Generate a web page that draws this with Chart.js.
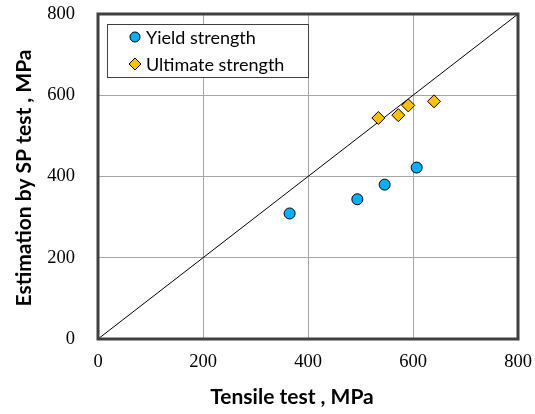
<!DOCTYPE html>
<html><head><meta charset="utf-8">
<script src="https://cdn.jsdelivr.net/npm/chart.js@4.4.1/dist/chart.umd.min.js"></script>
<style>html,body{margin:0;padding:0;background:#fff}#wrap{width:535px;height:414px}</style>
</head><body><div id="wrap"><canvas id="c" width="535" height="414"></canvas></div>
<script>
// ---- data ----
const yieldX = [365, 494, 546, 607];
const yieldY = [309, 344, 380, 422];
const ultX = [534, 572, 591, 640];
const ultY = [544, 551, 575, 585];
const refX = [0, 800];
const refY = [0, 800];
const tickValues = [0, 200, 400, 600, 800];
const seriesNames = ['Yield strength', 'Ultimate strength'];
const xTitle = 'Tensile test , MPa';
const yTitle = 'Estimation by SP test , MPa';

const toPts = (xs, ys) => xs.map((x, i) => ({x: x, y: ys[i]}));
const TITLE_FONT = 'bold 21px Lato';
const LEGEND_FONT = '18px Lato';

const deco = {
  id: 'deco',
  afterDatasetsDraw(chart) {
    const ctx = chart.ctx;
    const a = chart.chartArea;
    ctx.save();
    // frame
    ctx.strokeStyle = '#404040';
    ctx.lineWidth = 3;
    ctx.strokeRect(a.left, a.top, a.right - a.left, a.bottom - a.top);
    // legend box
    ctx.fillStyle = '#fff';
    ctx.fillRect(107.5, 24.5, 201, 53);
    ctx.strokeStyle = '#404040';
    ctx.lineWidth = 1;
    ctx.strokeRect(107.5, 24.5, 201, 53);
    const rows = [37, 64];
    chart.data.datasets.slice(0, 2).forEach((ds, i) => {
      const cy = rows[i], cx = 135;
      ctx.fillStyle = ds.backgroundColor;
      ctx.strokeStyle = '#000';
      ctx.lineWidth = 1;
      ctx.beginPath();
      if (ds.pointStyle === 'circle') {
        ctx.arc(cx, cy, 5, 0, Math.PI * 2);
      } else {
        ctx.moveTo(cx, cy - 6); ctx.lineTo(cx + 6, cy); ctx.lineTo(cx, cy + 6); ctx.lineTo(cx - 6, cy); ctx.closePath();
      }
      ctx.fill(); ctx.stroke();
      ctx.fillStyle = '#000';
      ctx.font = LEGEND_FONT;
      ctx.textBaseline = 'middle';
      ctx.textAlign = 'left';
      ctx.fillText(ds.label, 146, cy + 1);
    });
    // axis titles
    ctx.fillStyle = '#000';
    ctx.font = TITLE_FONT;
    ctx.textAlign = 'center';
    ctx.textBaseline = 'middle';
    ctx.fillText(xTitle, 292, 397);
    ctx.translate(24, 178);
    ctx.rotate(-Math.PI / 2);
    ctx.fillText(yTitle, 0, 0);
    ctx.restore();
  }
};

const tickFont = {family: '"Liberation Serif"', size: 18.5};

new Chart(document.getElementById('c'), {
  type: 'scatter',
  data: {
    datasets: [
      {label: seriesNames[0], data: toPts(yieldX, yieldY), pointStyle: 'circle', pointRadius: 5.5,
       backgroundColor: '#00B0F0', borderColor: '#000', borderWidth: 1},
      {label: seriesNames[1], data: toPts(ultX, ultY), pointStyle: 'rectRot', pointRadius: 6.5,
       backgroundColor: '#FFC000', borderColor: '#000', borderWidth: 1},
      {type: 'line', label: 'y=x', data: toPts(refX, refY), borderColor: '#000', borderWidth: 1,
       pointRadius: 0, fill: false, showLine: true}
    ]
  },
  options: {
    responsive: false,
    devicePixelRatio: 1,
    animation: false,
    layout: {padding: {left: 0, top: 14, right: 17, bottom: 0}},
    plugins: {legend: {display: false}, tooltip: {enabled: false}},
    scales: {
      x: {
        type: 'linear', min: 0, max: 800,
        afterBuildTicks: s => { s.ticks = tickValues.map(v => ({value: v})); },
        afterFit: s => { s.height = 75; s.paddingLeft = 0; s.paddingRight = 0; },
        grid: {color: '#a6a6a6', lineWidth: 1, drawTicks: false},
        border: {display: false},
        ticks: {font: tickFont, color: '#000', padding: 12, maxRotation: 0}
      },
      y: {
        type: 'linear', min: 0, max: 800,
        afterBuildTicks: s => { s.ticks = tickValues.map(v => ({value: v})); },
        afterFit: s => { s.width = 98; s.paddingTop = 0; s.paddingBottom = 0; },
        grid: {color: '#a6a6a6', lineWidth: 1, drawTicks: false},
        border: {display: false},
        ticks: {font: tickFont, color: '#000', padding: 23}
      }
    }
  },
  plugins: [deco]
});
</script></body></html>
